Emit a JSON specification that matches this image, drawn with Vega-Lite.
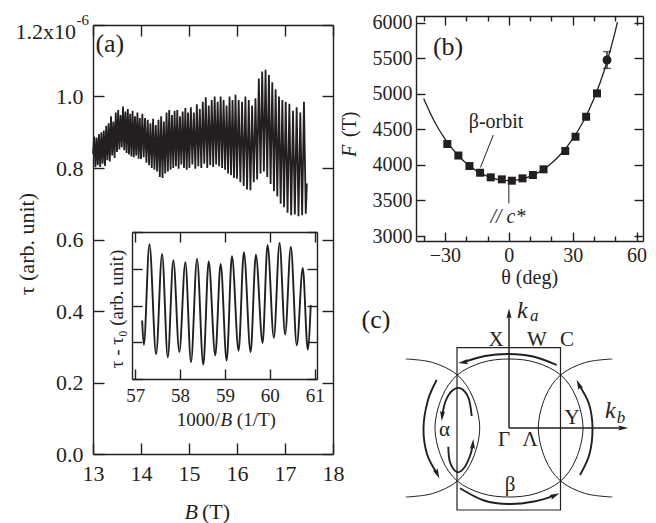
{
  "$schema": "https://vega.github.io/schema/vega-lite/v6.json",
  "width": 656,
  "height": 523,
  "autosize": {"type": "none"},
  "padding": 0,
  "background": "#ffffff",
  "config": {
    "view": {"stroke": null},
    "font": "Liberation Serif",
    "axis": {"grid": false, "domainColor": "#231f20", "domainWidth": 1.4, "tickColor": "#231f20", "tickWidth": 1.4, "labelColor": "#231f20", "labelFont": "Liberation Serif", "labelFlush": false, "labelOverlap": false, "labelBound": false},
    "text": {"font": "Liberation Serif", "color": "#231f20"}
  },
  "datasets": {
    "torque": [
      {"B":13.000,"tau":0.84},{"B":13.025,"tau":0.888},{"B":13.050,"tau":0.802},{"B":13.075,"tau":0.885},{"B":13.100,"tau":0.808},
      {"B":13.125,"tau":0.895},{"B":13.150,"tau":0.803},{"B":13.175,"tau":0.900},{"B":13.200,"tau":0.812},{"B":13.225,"tau":0.905},
      {"B":13.250,"tau":0.806},{"B":13.275,"tau":0.918},{"B":13.300,"tau":0.822},{"B":13.325,"tau":0.925},{"B":13.350,"tau":0.818},
      {"B":13.375,"tau":0.945},{"B":13.400,"tau":0.835},{"B":13.425,"tau":0.93},{"B":13.450,"tau":0.828},{"B":13.475,"tau":0.955},
      {"B":13.500,"tau":0.845},{"B":13.525,"tau":0.962},{"B":13.550,"tau":0.852},{"B":13.575,"tau":0.948},{"B":13.600,"tau":0.858},
      {"B":13.625,"tau":0.972},{"B":13.650,"tau":0.85},{"B":13.675,"tau":0.958},{"B":13.700,"tau":0.842},{"B":13.725,"tau":0.965},
      {"B":13.750,"tau":0.838},{"B":13.775,"tau":0.952},{"B":13.800,"tau":0.832},{"B":13.825,"tau":0.96},{"B":13.850,"tau":0.83},
      {"B":13.875,"tau":0.945},{"B":13.900,"tau":0.835},{"B":13.925,"tau":0.955},{"B":13.950,"tau":0.826},{"B":13.975,"tau":0.94},
      {"B":14.000,"tau":0.825},{"B":14.028,"tau":0.952},{"B":14.056,"tau":0.83},{"B":14.084,"tau":0.94},{"B":14.112,"tau":0.815},
      {"B":14.140,"tau":0.935},{"B":14.168,"tau":0.808},{"B":14.196,"tau":0.925},{"B":14.224,"tau":0.80},{"B":14.252,"tau":0.938},
      {"B":14.280,"tau":0.795},{"B":14.308,"tau":0.92},{"B":14.336,"tau":0.79},{"B":14.364,"tau":0.935},{"B":14.392,"tau":0.775},
      {"B":14.420,"tau":0.945},{"B":14.448,"tau":0.772},{"B":14.476,"tau":0.93},{"B":14.504,"tau":0.785},{"B":14.532,"tau":0.955},
      {"B":14.560,"tau":0.79},{"B":14.588,"tau":0.962},{"B":14.616,"tau":0.795},{"B":14.644,"tau":0.948},{"B":14.672,"tau":0.80},
      {"B":14.700,"tau":0.96},{"B":14.728,"tau":0.805},{"B":14.756,"tau":0.962},{"B":14.784,"tau":0.798},{"B":14.812,"tau":0.945},
      {"B":14.840,"tau":0.81},{"B":14.868,"tau":0.958},{"B":14.896,"tau":0.80},{"B":14.924,"tau":0.968},{"B":14.952,"tau":0.795},
      {"B":14.980,"tau":0.955},
      {"B":15.008,"tau":0.80},{"B":15.039,"tau":0.97},{"B":15.070,"tau":0.81},{"B":15.101,"tau":0.955},{"B":15.132,"tau":0.798},
      {"B":15.163,"tau":0.978},{"B":15.194,"tau":0.805},{"B":15.225,"tau":0.965},{"B":15.256,"tau":0.80},{"B":15.287,"tau":0.985},
      {"B":15.318,"tau":0.812},{"B":15.349,"tau":0.998},{"B":15.380,"tau":0.80},{"B":15.411,"tau":0.975},{"B":15.442,"tau":0.808},
      {"B":15.473,"tau":0.99},{"B":15.504,"tau":0.803},{"B":15.535,"tau":1.0},{"B":15.566,"tau":0.81},{"B":15.597,"tau":0.985},
      {"B":15.628,"tau":0.805},{"B":15.659,"tau":1.0},{"B":15.690,"tau":0.80},{"B":15.721,"tau":0.99},{"B":15.752,"tau":0.795},
      {"B":15.783,"tau":0.975},{"B":15.814,"tau":0.785},{"B":15.845,"tau":1.0},{"B":15.876,"tau":0.78},{"B":15.907,"tau":0.99},
      {"B":15.938,"tau":0.772},{"B":15.969,"tau":1.005},
      {"B":16.000,"tau":0.77},{"B":16.035,"tau":0.99},{"B":16.070,"tau":0.76},{"B":16.105,"tau":0.985},{"B":16.140,"tau":0.75},
      {"B":16.175,"tau":1.0},{"B":16.210,"tau":0.74},{"B":16.245,"tau":0.99},{"B":16.280,"tau":0.738},{"B":16.315,"tau":0.975},
      {"B":16.350,"tau":0.76},{"B":16.385,"tau":0.995},{"B":16.420,"tau":0.768},{"B":16.455,"tau":1.05},{"B":16.490,"tau":0.785},
      {"B":16.525,"tau":1.07},{"B":16.560,"tau":0.79},{"B":16.595,"tau":1.075},{"B":16.630,"tau":0.775},{"B":16.665,"tau":1.06},
      {"B":16.700,"tau":0.755},{"B":16.735,"tau":1.04},{"B":16.770,"tau":0.735},{"B":16.805,"tau":1.02},{"B":16.840,"tau":0.72},
      {"B":16.875,"tau":1.0},{"B":16.910,"tau":0.70},{"B":16.945,"tau":0.99},{"B":16.980,"tau":0.69},
      {"B":17.015,"tau":0.985},{"B":17.053,"tau":0.675},{"B":17.091,"tau":0.98},{"B":17.129,"tau":0.668},{"B":17.167,"tau":0.96},
      {"B":17.205,"tau":0.67},{"B":17.243,"tau":0.97},{"B":17.281,"tau":0.665},{"B":17.319,"tau":0.955},{"B":17.357,"tau":0.668},
      {"B":17.395,"tau":0.985},{"B":17.433,"tau":0.672},{"B":17.455,"tau":0.757}
    ],
    "torque_inset": [
      {"invB":57.156,"dtau":-0.41},{"invB":57.193,"dtau":-1.07},{"invB":57.318,"dtau":1.67},{"invB":57.467,"dtau":-1.32},
      {"invB":57.600,"dtau":1.40},{"invB":57.727,"dtau":-1.41},{"invB":57.851,"dtau":1.23},{"invB":57.984,"dtau":-1.27},
      {"invB":58.118,"dtau":1.18},{"invB":58.244,"dtau":-1.54},{"invB":58.378,"dtau":1.27},{"invB":58.518,"dtau":-1.61},
      {"invB":58.638,"dtau":1.20},{"invB":58.784,"dtau":-1.36},{"invB":58.904,"dtau":1.13},{"invB":59.038,"dtau":-1.50},
      {"invB":59.156,"dtau":1.34},{"invB":59.304,"dtau":-1.23},{"invB":59.422,"dtau":1.45},{"invB":59.571,"dtau":-1.27},
      {"invB":59.689,"dtau":1.38},{"invB":59.838,"dtau":-1.02},{"invB":59.949,"dtau":1.65},{"invB":60.089,"dtau":-0.88},
      {"invB":60.216,"dtau":1.70},{"invB":60.340,"dtau":-0.79},{"invB":60.467,"dtau":1.59},{"invB":60.600,"dtau":-1.08},
      {"invB":60.733,"dtau":1.02},{"invB":60.844,"dtau":-1.20},{"invB":60.911,"dtau":0.01}
    ],
    "freq": [
      {"theta":-28.9,"F":4294},{"theta":-23.7,"F":4132},{"theta":-18.5,"F":3984},{"theta":-13.5,"F":3890},
      {"theta":-8.5,"F":3825},{"theta":-3.3,"F":3797},{"theta":1.4,"F":3778},{"theta":6.4,"F":3811},
      {"theta":11.3,"F":3858},{"theta":16.3,"F":3938},{"theta":26.5,"F":4195},{"theta":31.3,"F":4396},
      {"theta":36.3,"F":4677},{"theta":41.4,"F":5006}
    ],
    "freq_err": [{"theta":46.1,"F":5475,"lo":5357,"hi":5593}],
    "freq_fit": [
      {"theta":-40,"F":4935},{"theta":-35,"F":4614},{"theta":-30,"F":4365},{"theta":-25,"F":4171},{"theta":-20,"F":4023},
      {"theta":-15,"F":3913},{"theta":-10,"F":3838},{"theta":-5,"F":3794},{"theta":0,"F":3780},{"theta":5,"F":3794},
      {"theta":10,"F":3838},{"theta":15,"F":3913},{"theta":20,"F":4023},{"theta":25,"F":4171},{"theta":30,"F":4365},
      {"theta":35,"F":4614},{"theta":40,"F":4935},{"theta":45,"F":5346},{"theta":50,"F":5881},{"theta":51,"F":6007}
    ],
    "fs_center": [
      {"i":0,"x":74,"y":0},{"i":1,"x":67,"y":31},{"i":2,"x":51.7,"y":53},{"i":3,"x":27,"y":65.5},
      {"i":4,"x":0,"y":69},{"i":5,"x":-27,"y":65.5},{"i":6,"x":-51.7,"y":53},{"i":7,"x":-67,"y":31},
      {"i":8,"x":-74,"y":0},{"i":9,"x":-67,"y":-31},{"i":10,"x":-51.7,"y":-53},{"i":11,"x":-27,"y":-65.5},
      {"i":12,"x":0,"y":-69},{"i":13,"x":27,"y":-65.5},{"i":14,"x":51.7,"y":-53},{"i":15,"x":67,"y":-31}
    ],
    "fs_neighbor": [
      {"side":"L","i":0,"x":-103.3,"y":69},{"side":"L","i":1,"x":-76.3,"y":65.5},{"side":"L","i":2,"x":-51.6,"y":53},
      {"side":"L","i":3,"x":-36.3,"y":31},{"side":"L","i":4,"x":-29.3,"y":0},{"side":"L","i":5,"x":-36.3,"y":-31},
      {"side":"L","i":6,"x":-51.6,"y":-53},{"side":"L","i":7,"x":-76.3,"y":-65.5},{"side":"L","i":8,"x":-103.3,"y":-69},
      {"side":"R","i":0,"x":103.3,"y":69},{"side":"R","i":1,"x":76.3,"y":65.5},{"side":"R","i":2,"x":51.6,"y":53},
      {"side":"R","i":3,"x":36.3,"y":31},{"side":"R","i":4,"x":29.3,"y":0},{"side":"R","i":5,"x":36.3,"y":-31},
      {"side":"R","i":6,"x":51.6,"y":-53},{"side":"R","i":7,"x":76.3,"y":-65.5},{"side":"R","i":8,"x":103.3,"y":-69}
    ],
    "orbits": [
      {"arc":"top","i":0,"x":47.7,"y":63},{"arc":"top","i":1,"x":24,"y":71.5},{"arc":"top","i":2,"x":0,"y":74},
      {"arc":"top","i":3,"x":-24,"y":72},{"arc":"top","i":4,"x":-45.3,"y":65.8},
      {"arc":"bottom","i":0,"x":-49,"y":-60.3},{"arc":"bottom","i":1,"x":-25,"y":-72.5},{"arc":"bottom","i":2,"x":0,"y":-76},
      {"arc":"bottom","i":3,"x":25,"y":-73.5},{"arc":"bottom","i":4,"x":45.3,"y":-67.6},
      {"arc":"left","i":0,"x":-72.3,"y":48},{"arc":"left","i":1,"x":-81,"y":28},{"arc":"left","i":2,"x":-85.5,"y":0},
      {"arc":"left","i":3,"x":-82,"y":-26},{"arc":"left","i":4,"x":-72,"y":-45.3},
      {"arc":"right","i":0,"x":71,"y":-47},{"arc":"right","i":1,"x":80.5,"y":-26},{"arc":"right","i":2,"x":83.5,"y":0},
      {"arc":"right","i":3,"x":80,"y":24},{"arc":"right","i":4,"x":70,"y":43},
      {"arc":"alphaTop","i":0,"x":-37.3,"y":12},{"arc":"alphaTop","i":1,"x":-40.5,"y":30},{"arc":"alphaTop","i":2,"x":-48,"y":39.5},
      {"arc":"alphaTop","i":3,"x":-56,"y":38},{"arc":"alphaTop","i":4,"x":-63,"y":28},{"arc":"alphaTop","i":5,"x":-66.8,"y":12.8},
      {"arc":"alphaBottom","i":0,"x":-60.7,"y":-18.7},{"arc":"alphaBottom","i":1,"x":-59,"y":-34},{"arc":"alphaBottom","i":2,"x":-52.3,"y":-44},
      {"arc":"alphaBottom","i":3,"x":-45,"y":-40},{"arc":"alphaBottom","i":4,"x":-39,"y":-28},{"arc":"alphaBottom","i":5,"x":-36.2,"y":-16.8}
    ],
    "heads": [
      {"x":0,"y":113.7,"heading":0},{"x":113.6,"y":0,"heading":90},
      {"x":-45.3,"y":65.8,"heading":262},{"x":45.3,"y":-67.6,"heading":65},
      {"x":-72,"y":-45.3,"heading":155},{"x":70,"y":43,"heading":335},
      {"x":-66.8,"y":12.8,"heading":185},{"x":-36.2,"y":-16.8,"heading":5}
    ]
  },
  "layer": [
    {
      "encoding": {
        "x": {"field": "B", "type": "quantitative", "scale": {"domain": [13, 18], "range": [93, 333], "nice": false, "zero": false}, "axis": null},
        "y": {"field": "tau", "type": "quantitative", "scale": {"domain": [0, 1.2], "range": [454, 25], "nice": false, "zero": false}, "axis": null}
      },
      "layer": [
        {
          "data": {"name": "torque"},
          "mark": {"type": "line", "color": "#231f20", "strokeWidth": 1.8},
          "encoding": {
            "x": {"field": "B", "type": "quantitative", "scale": {"domain": [13, 18], "range": [93, 333], "nice": false, "zero": false},
                  "axis": {"orient": "bottom", "offset": -69, "values": [13, 14, 15, 16, 17, 18], "tickSize": -11, "labelFont": "Liberation Serif", "labelFontSize": 22, "labelPadding": 20, "title": null}},
            "y": {"field": "tau", "type": "quantitative", "scale": {"domain": [0, 1.2], "range": [454, 25], "nice": false, "zero": false},
                  "axis": {"orient": "left", "offset": -93, "values": [0, 0.2, 0.4, 0.6, 0.8, 1, 1.2], "tickSize": -11, "labelFont": "Liberation Serif", "labelFontSize": 22, "labelPadding": 21, "labelExpr": "datum.value > 1.1 ? '' : format(datum.value, '.1f')", "title": null}}
          }
        },
        {
          "data": {"values": [{"B": 13, "tau": 0}]},
          "mark": {"type": "point", "opacity": 0},
          "encoding": {
            "x": {"field": "B", "type": "quantitative", "scale": {"domain": [13, 18], "range": [93, 333], "nice": false, "zero": false},
                  "axis": {"orient": "top", "offset": -25, "values": [13, 14, 15, 16, 17, 18], "tickSize": -11, "labels": false, "title": null}},
            "y": {"field": "tau", "type": "quantitative", "scale": {"domain": [0, 1.2], "range": [454, 25], "nice": false, "zero": false},
                  "axis": {"orient": "right", "offset": -323, "values": [0, 0.2, 0.4, 0.6, 0.8, 1, 1.2], "tickSize": -11, "labels": false, "title": null}}
          }
        },
        {"data": {"values": [{"B": 13.35, "tau": 1.147, "label": "(a)"}]}, "mark": {"type": "text", "fontSize": 26}, "encoding": {"text": {"field": "label"}}},
        {"data": {"values": [{"B": 12.646, "tau": 1.18, "label": "1.2x10"}]}, "mark": {"type": "text", "fontSize": 22, "align": "right", "baseline": "middle"}, "encoding": {"text": {"field": "label"}}},
        {"data": {"values": [{"B": 12.656, "tau": 1.214, "label": "-6"}]}, "mark": {"type": "text", "fontSize": 15, "align": "left", "baseline": "middle"}, "encoding": {"text": {"field": "label"}}},
        {"data": {"values": [{"B": 11.625, "tau": 0.587, "label": "τ (arb. unit)"}]}, "mark": {"type": "text", "fontSize": 22, "angle": 270, "align": "center", "baseline": "middle"}, "encoding": {"text": {"field": "label"}}},
        {"data": {"values": [{"B": 15.1875, "tau": -0.162, "label": "B"}]}, "mark": {"type": "text", "fontSize": 22, "fontStyle": "italic", "align": "right", "baseline": "middle"}, "encoding": {"text": {"field": "label"}}},
        {"data": {"values": [{"B": 15.27, "tau": -0.162, "label": "(T)"}]}, "mark": {"type": "text", "fontSize": 22, "align": "left", "baseline": "middle"}, "encoding": {"text": {"field": "label"}}}
      ]
    },
    {
      "encoding": {
        "x": {"field": "invB", "type": "quantitative", "scale": {"domain": [56.93, 61.05], "range": [132, 317], "nice": false, "zero": false}, "axis": null},
        "y": {"field": "dtau", "type": "quantitative", "scale": {"domain": [-2, 2], "range": [379, 232], "nice": false, "zero": false}, "axis": null}
      },
      "layer": [
        {
          "data": {"name": "torque_inset"},
          "mark": {"type": "line", "color": "#231f20", "strokeWidth": 1.9, "interpolate": "monotone"},
          "encoding": {
            "x": {"field": "invB", "type": "quantitative", "scale": {"domain": [56.93, 61.05], "range": [132, 317], "nice": false, "zero": false},
                  "axis": {"orient": "bottom", "offset": -144, "values": [57, 58, 59, 60, 61], "tickSize": -10, "labelFont": "Liberation Serif", "labelFontSize": 19, "labelPadding": 17, "title": null}},
            "y": {"field": "dtau", "type": "quantitative", "scale": {"domain": [-2, 2], "range": [379, 232], "nice": false, "zero": false},
                  "axis": {"orient": "left", "offset": -132, "values": [-2, -1, 0, 1, 2], "tickSize": -10, "labels": false, "title": null}}
          }
        },
        {
          "data": {"values": [{"invB": 57, "dtau": 0}]},
          "mark": {"type": "point", "opacity": 0},
          "encoding": {
            "x": {"field": "invB", "type": "quantitative", "scale": {"domain": [56.93, 61.05], "range": [132, 317], "nice": false, "zero": false},
                  "axis": {"orient": "top", "offset": -232, "values": [57, 58, 59, 60, 61], "tickSize": -10, "labels": false, "title": null}},
            "y": {"field": "dtau", "type": "quantitative", "scale": {"domain": [-2, 2], "range": [379, 232], "nice": false, "zero": false},
                  "axis": {"orient": "right", "offset": -339, "values": [-2, -1, 0, 1, 2], "tickSize": -10, "labels": false, "title": null}}
          }
        },
        {"data": {"values": [{"invB": 56.589, "dtau": -0.095, "label": "τ - τ₀ (arb. unit)"}]}, "mark": {"type": "text", "fontSize": 19, "angle": 270, "align": "center", "baseline": "middle"}, "encoding": {"text": {"field": "label"}}},
        {"data": {"values": [{"invB": 58.889, "dtau": -3.116, "label": "1000/"}]}, "mark": {"type": "text", "fontSize": 19, "align": "right", "baseline": "middle"}, "encoding": {"text": {"field": "label"}}},
        {"data": {"values": [{"invB": 58.9, "dtau": -3.116, "label": "B"}]}, "mark": {"type": "text", "fontSize": 19, "fontStyle": "italic", "align": "left", "baseline": "middle"}, "encoding": {"text": {"field": "label"}}},
        {"data": {"values": [{"invB": 59.264, "dtau": -3.116, "label": "(1/T)"}]}, "mark": {"type": "text", "fontSize": 19, "align": "left", "baseline": "middle"}, "encoding": {"text": {"field": "label"}}}
      ]
    },
    {
      "encoding": {
        "x": {"field": "theta", "type": "quantitative", "scale": {"domain": [-43.6, 63], "range": [416, 643], "nice": false, "zero": false}, "axis": null},
        "y": {"field": "F", "type": "quantitative", "scale": {"domain": [2930, 6094], "range": [241, 16], "nice": false, "zero": false}, "axis": null}
      },
      "layer": [
        {
          "data": {"name": "freq_fit"},
          "mark": {"type": "line", "color": "#231f20", "strokeWidth": 1.3, "interpolate": "monotone"},
          "encoding": {
            "x": {"field": "theta", "type": "quantitative", "scale": {"domain": [-43.6, 63], "range": [416, 643], "nice": false, "zero": false},
                  "axis": {"orient": "bottom", "offset": -282, "values": [-30, 0, 30, 60], "tickSize": -9, "labelFont": "Liberation Serif", "labelFontSize": 20, "labelPadding": 13, "format": "d", "title": null}},
            "y": {"field": "F", "type": "quantitative", "scale": {"domain": [2930, 6094], "range": [241, 16], "nice": false, "zero": false},
                  "axis": {"orient": "left", "offset": -416, "values": [3000, 3500, 4000, 4500, 5000, 5500, 6000], "tickSize": -9, "labelFont": "Liberation Serif", "labelFontSize": 20, "labelPadding": 13, "format": "d", "title": null}}
          }
        },
        {
          "data": {"values": [{"theta": -7.3, "F": 4421, "theta2": -13.3, "F2": 3965}, {"theta": 0, "F": 3740, "theta2": 0, "F2": 3460}]},
          "mark": {"type": "rule", "color": "#231f20", "strokeWidth": 1},
          "encoding": {"x2": {"field": "theta2"}, "y2": {"field": "F2"}}
        },
        {
          "data": {"name": "freq_err"},
          "mark": {"type": "rule", "color": "#231f20", "strokeWidth": 1.4},
          "encoding": {"y": {"field": "lo", "type": "quantitative", "axis": null}, "y2": {"field": "hi"}}
        },
        {
          "data": {"name": "freq_err"},
          "mark": {"type": "tick", "orient": "horizontal", "size": 8, "thickness": 1.4, "color": "#231f20"},
          "encoding": {"y": {"field": "lo", "type": "quantitative", "axis": null}}
        },
        {
          "data": {"name": "freq_err"},
          "mark": {"type": "tick", "orient": "horizontal", "size": 8, "thickness": 1.4, "color": "#231f20"},
          "encoding": {"y": {"field": "hi", "type": "quantitative", "axis": null}}
        },
        {"data": {"name": "freq"}, "mark": {"type": "point", "shape": "square", "filled": true, "size": 64, "color": "#231f20", "opacity": 1}},
        {"data": {"name": "freq_err"}, "mark": {"type": "point", "shape": "circle", "filled": true, "size": 80, "color": "#231f20", "opacity": 1}},
        {
          "data": {"values": [{"theta": 0, "F": 3000}]},
          "mark": {"type": "point", "opacity": 0},
          "encoding": {
            "x": {"field": "theta", "type": "quantitative", "scale": {"domain": [-43.6, 63], "range": [416, 643], "nice": false, "zero": false},
                  "axis": {"orient": "top", "offset": -16, "values": [-30, 0, 30, 60], "tickSize": -9, "labels": false, "title": null}},
            "y": {"field": "F", "type": "quantitative", "scale": {"domain": [2930, 6094], "range": [241, 16], "nice": false, "zero": false},
                  "axis": {"orient": "right", "offset": -13, "values": [3000, 3500, 4000, 4500, 5000, 5500, 6000], "tickSize": -9, "labels": false, "title": null}}
          }
        },
        {
          "data": {"values": [{"theta": 0, "F": 3000}]},
          "mark": {"type": "point", "opacity": 0},
          "encoding": {
            "x": {"field": "theta", "type": "quantitative", "scale": {"domain": [-43.6, 63], "range": [416, 643], "nice": false, "zero": false},
                  "axis": {"orient": "bottom", "offset": -282, "values": [-40, -20, -10, 10, 20, 40, 50], "tickSize": -5, "labels": false, "domain": false, "title": null}}
          }
        },
        {
          "data": {"values": [{"theta": 0, "F": 3000}]},
          "mark": {"type": "point", "opacity": 0},
          "encoding": {
            "x": {"field": "theta", "type": "quantitative", "scale": {"domain": [-43.6, 63], "range": [416, 643], "nice": false, "zero": false},
                  "axis": {"orient": "top", "offset": -16, "values": [-40, -20, -10, 10, 20, 40, 50], "tickSize": -5, "labels": false, "domain": false, "title": null}}
          }
        },
        {"data": {"values": [{"theta": -28.55, "F": 5658, "label": "(b)"}]}, "mark": {"type": "text", "fontSize": 26, "baseline": "middle"}, "encoding": {"text": {"field": "label"}}},
        {"data": {"values": [{"theta": -6.0, "F": 4603, "label": "β-orbit"}]}, "mark": {"type": "text", "fontSize": 20, "baseline": "middle"}, "encoding": {"text": {"field": "label"}}},
        {"data": {"values": [{"theta": -0.4, "F": 3272, "label": "// c*"}]}, "mark": {"type": "text", "fontSize": 20, "fontStyle": "italic", "baseline": "middle"}, "encoding": {"text": {"field": "label"}}},
        {"data": {"values": [{"theta": 9.77, "F": 2410, "label": "θ (deg)"}]}, "mark": {"type": "text", "fontSize": 20, "baseline": "middle"}, "encoding": {"text": {"field": "label"}}},
        {"data": {"values": [{"theta": -74.57, "F": 4111, "label": "F"}]}, "mark": {"type": "text", "fontSize": 20, "fontStyle": "italic", "angle": 270, "align": "left", "baseline": "middle"}, "encoding": {"text": {"field": "label"}}},
        {"data": {"values": [{"theta": -74.57, "F": 4392, "label": "(T)"}]}, "mark": {"type": "text", "fontSize": 20, "angle": 270, "align": "left", "baseline": "middle"}, "encoding": {"text": {"field": "label"}}}
      ]
    },
    {
      "encoding": {
        "x": {"field": "x", "type": "quantitative", "scale": {"domain": [-200, 147], "range": [309, 656], "nice": false, "zero": false}, "axis": null},
        "y": {"field": "y", "type": "quantitative", "scale": {"domain": [-95, 140], "range": [523, 288], "nice": false, "zero": false}, "axis": null}
      },
      "layer": [
        {
          "data": {"values": [{"x": -52, "x2": 51.5, "y": -82, "y2": 80.3}]},
          "mark": {"type": "rect", "filled": false, "stroke": "#231f20", "strokeWidth": 1.2},
          "encoding": {"x2": {"field": "x2"}, "y2": {"field": "y2"}}
        },
        {
          "data": {"name": "fs_center"},
          "mark": {"type": "line", "interpolate": "cardinal-closed", "color": "#231f20", "strokeWidth": 1},
          "encoding": {"order": {"field": "i", "type": "quantitative"}}
        },
        {
          "data": {"name": "fs_neighbor"},
          "mark": {"type": "line", "interpolate": "cardinal", "color": "#231f20", "strokeWidth": 1},
          "encoding": {"detail": {"field": "side"}, "order": {"field": "i", "type": "quantitative"}}
        },
        {
          "data": {"values": [{"x": 0, "y": 0, "x2": 0, "y2": 112}, {"x": 0, "y": 0, "x2": 112, "y2": 0}]},
          "mark": {"type": "rule", "color": "#231f20", "strokeWidth": 1.5},
          "encoding": {"x2": {"field": "x2"}, "y2": {"field": "y2"}}
        },
        {
          "data": {"name": "orbits"},
          "mark": {"type": "line", "interpolate": "cardinal", "color": "#231f20", "strokeWidth": 1.9},
          "encoding": {"detail": {"field": "arc"}, "order": {"field": "i", "type": "quantitative"}}
        },
        {
          "data": {"name": "heads"},
          "mark": {"type": "point", "shape": "M0,-1L0.45,0.75L0,0.45L-0.45,0.75Z", "filled": true, "size": 130, "color": "#231f20", "opacity": 1},
          "encoding": {"angle": {"field": "heading", "type": "quantitative", "scale": null}}
        },
        {
          "data": {"values": [
            {"x": -13, "y": 88, "label": "X"}, {"x": 28, "y": 88, "label": "W"}, {"x": 58, "y": 88, "label": "C"},
            {"x": 63, "y": 10, "label": "Y"}, {"x": -5, "y": -12, "label": "Γ"}, {"x": 21, "y": -12, "label": "Λ"},
            {"x": 1, "y": -57, "label": "β"}, {"x": -64.5, "y": -2, "label": "α"}
          ]},
          "mark": {"type": "text", "fontSize": 21, "baseline": "middle"},
          "encoding": {"text": {"field": "label"}}
        },
        {"data": {"values": [{"x": -133, "y": 108, "label": "(c)"}]}, "mark": {"type": "text", "fontSize": 26, "baseline": "middle"}, "encoding": {"text": {"field": "label"}}},
        {
          "data": {"values": [{"x": 8, "y": 117.5, "label": "k"}, {"x": 96, "y": 17, "label": "k"}]},
          "mark": {"type": "text", "fontSize": 24, "fontStyle": "italic", "align": "left", "baseline": "middle"},
          "encoding": {"text": {"field": "label"}}
        },
        {
          "data": {"values": [{"x": 21, "y": 112, "label": "a"}, {"x": 107.7, "y": 10, "label": "b"}]},
          "mark": {"type": "text", "fontSize": 17, "fontStyle": "italic", "align": "left", "baseline": "middle"},
          "encoding": {"text": {"field": "label"}}
        }
      ]
    }
  ],
  "resolve": {"scale": {"x": "independent", "y": "independent"}}
}
